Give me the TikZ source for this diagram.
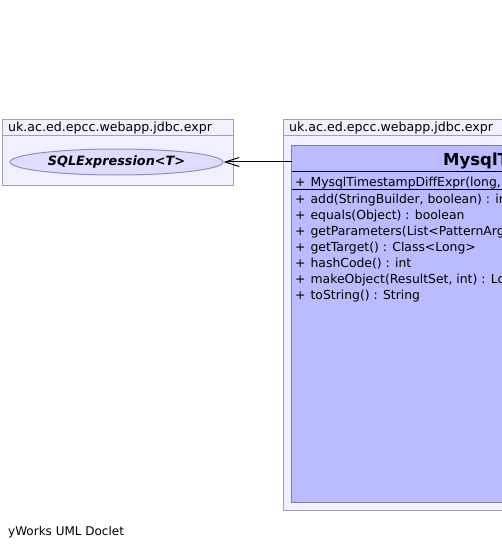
\documentclass[tikz,border=0pt]{standalone}
\usepackage{fontspec}
\setmainfont{DejaVu Sans}
\usetikzlibrary{arrows.meta,shapes.geometric}
\definecolor{pkgfill}{RGB}{240,240,255}
\definecolor{pkgline}{RGB}{160,160,176}
\definecolor{clsfill}{RGB}{187,187,255}
\definecolor{clsline}{RGB}{128,128,160}
\definecolor{ellfill}{RGB}{221,221,255}
\definecolor{ellline}{RGB}{144,144,176}
\tikzset{
  pkgbox/.style={draw=pkgline,fill=pkgfill,line width=1pt,inner sep=0pt},
  clsbox/.style={draw=clsline,fill=clsfill,line width=1pt,inner sep=0pt},
  pkglabel/.style={anchor=base west,inner sep=0pt,font=\fontsize{12.6}{14}\selectfont},
  member/.style={anchor=base west,inner sep=0pt,font=\fontsize{12.4}{14}\selectfont},
}
\newcommand{\pl}{+\hspace{5pt}}
\begin{document}
\begin{tikzpicture}[x=1pt,y=-1pt]
\useasboundingbox (0,0) rectangle (502,548);
\clip (0,0) rectangle (502,548);
% left package
\draw[pkgbox] (2.5,119.5) rectangle (233.5,185.5);
\draw[pkgline,line width=1pt] (2.5,136) -- (233.5,136);
\node[pkglabel] (lpkg) at (8,132) {uk.ac.ed.epcc.webapp.jdbc.expr};
\node[ellipse,draw=ellline,fill=ellfill,line width=1pt,minimum width=213pt,minimum height=26pt,inner sep=0pt,font=\fontsize{12.8}{14}\selectfont\bfseries\itshape] (sqlexpr) at (116.5,162) {SQLExpression<T>};
% right package
\draw[pkgbox] (283.5,119.5) rectangle (540,510.5);
\draw[pkgline,line width=1pt] (283.5,136) -- (540,136);
\node[pkglabel] (rpkg) at (289,132) {uk.ac.ed.epcc.webapp.jdbc.expr};
% class
\draw[clsbox] (291.5,145.5) rectangle (620,502.5);
\coordinate (clsleft) at (291.5,162);
\draw[black,line width=1pt] (291.5,171.5) -- (620,171.5);
\draw[black,line width=1pt] (291.5,189.5) -- (620,189.5);
\node[anchor=base west,inner sep=0pt,font=\fontsize{16.5}{18}\selectfont\bfseries] (title) at (443,165) {MysqlTimestampDiffExpr};
\node[member] (ctor) at (295,186) {\pl MysqlTimestampDiffExpr(long, SQLExpression<Date>, SQLExpression<Date>)};
\node[member] (m1) at (295,203) {\pl add(StringBuilder, boolean) : int};
\node[member] (m2) at (295,219) {\pl equals(Object) : boolean};
\node[member] (m3) at (295,235) {\pl getParameters(List<PatternArgument>) : List<PatternArgument>};
\node[member] (m4) at (295,251) {\pl getTarget() : Class<Long>};
\node[member] (m5) at (295,267) {\pl hashCode() : int};
\node[member] (m6) at (295,283) {\pl makeObject(ResultSet, int) : Long};
\node[member] (m7) at (295,299) {\pl toString() : String};
% connector
\draw[black,line width=1pt,-{Straight Barb[length=14pt,width=9pt]}] (clsleft) -- (sqlexpr.east);
\node[anchor=base west,inner sep=0pt,font=\fontsize{12}{14}\selectfont] (footer) at (8,535) {yWorks UML Doclet};
\end{tikzpicture}
\end{document}
